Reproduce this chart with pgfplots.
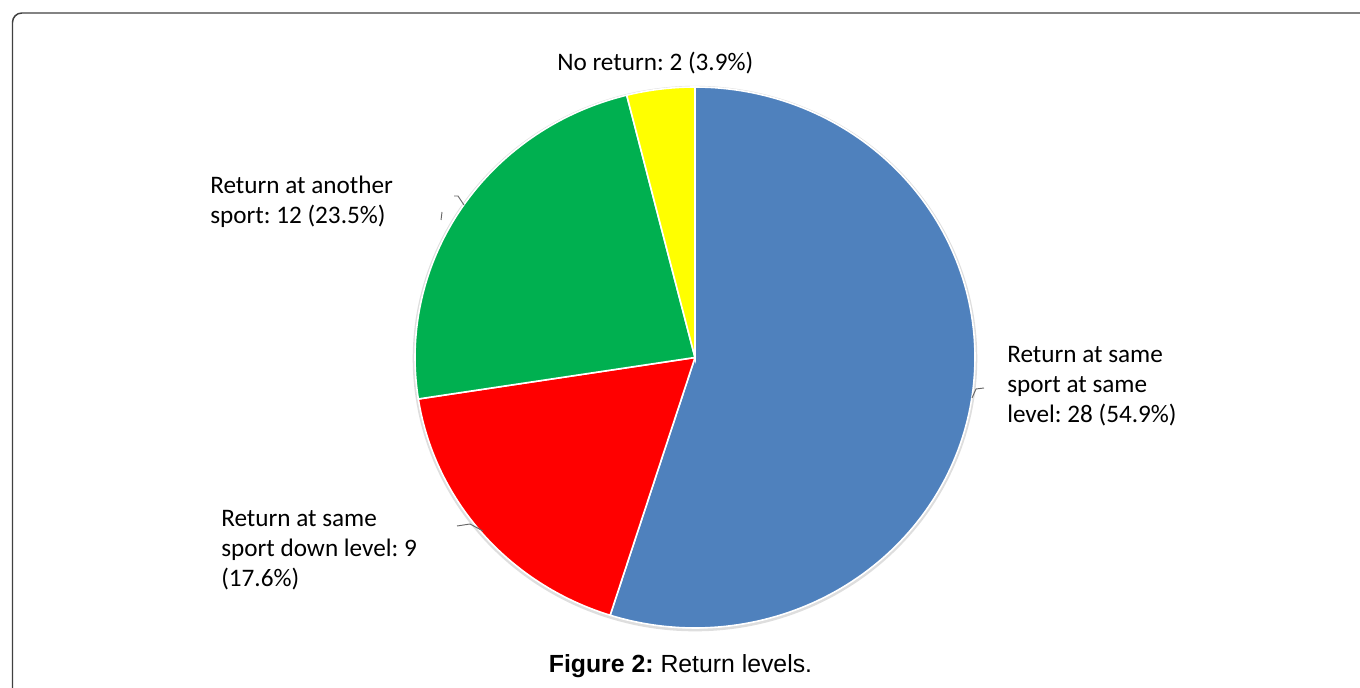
\documentclass[border=0pt]{standalone}
\usepackage{pgfplots}
\pgfplotsset{compat=1.18}
\usepackage{fontspec}
\setmainfont{Carlito}
\newfontfamily\capfont{Liberation Sans}
\definecolor{cblue}{HTML}{4F81BD}
\definecolor{cred}{HTML}{FF0000}
\definecolor{cgreen}{HTML}{00B050}
\definecolor{cyellow}{HTML}{FFFF00}
% data: counts per category (clockwise from 12 o'clock)
\def\vA{28}% Return at same sport at same level
\def\vB{9}% Return at same sport down level
\def\vC{12}% Return at another sport
\def\vD{2}% No return
\pgfmathsetmacro\tot{\vA+\vB+\vC+\vD}
\pgfmathsetmacro\aO{90}
\pgfmathsetmacro\aA{\aO-360*\vA/\tot}
\pgfmathsetmacro\aB{\aA-360*\vB/\tot}
\pgfmathsetmacro\aC{\aB-360*\vC/\tot}
\pgfmathsetmacro\aD{\aC-360*\vD/\tot}
% pixel coordinates (origin top left, y downward) -> pt
\def\px(#1,#2){({(#1)*0.75pt},{(688-(#2))*0.75pt})}
\begin{document}
\frenchspacing
\begin{tikzpicture}
\useasboundingbox \px(0,0) rectangle \px(1360,688);
\begin{scope}
\clip \px(0,0) rectangle \px(1360,688);
\draw[line width=1.1pt, color=black!75, rounded corners=7pt] \px(12.5,13) rectangle \px(1380,710);
\end{scope}
\begin{axis}[at={(521.25pt,247.875pt)}, anchor=center, scale only axis,
  width=420pt, height=405.75pt, xmin=-1, xmax=1, ymin=-1, ymax=1,
  hide axis, clip=false]
\addplot[draw=black!13, line width=2.2pt, domain=0:360, samples=240] ({1.003*cos(x)},{1.003*sin(x)-0.004});
\addplot[fill=cblue, draw=white, line width=1.2pt, domain=\aA:\aO, samples=150] ({cos(x)},{sin(x)}) -- (0,0) -- cycle;
\addplot[fill=cred, draw=white, line width=1.2pt, domain=\aB:\aA, samples=60] ({cos(x)},{sin(x)}) -- (0,0) -- cycle;
\addplot[fill=cgreen, draw=white, line width=1.2pt, domain=\aC:\aB, samples=80] ({cos(x)},{sin(x)}) -- (0,0) -- cycle;
\addplot[fill=cyellow, draw=white, line width=1.2pt, domain=\aD:\aC, samples=20] ({cos(x)},{sin(x)}) -- (0,0) -- cycle;
\end{axis}
% leader lines
\draw[black!60, line width=0.7pt] \px(454,196) -- \px(458,196) -- \px(464,205);
\draw[black!60, line width=0.7pt] \px(442,212) -- \px(441,220);
\draw[black!60, line width=0.7pt] \px(972,398) -- \px(976,389) -- \px(984,388);
\draw[black!60, line width=0.7pt] \px(457,526) -- \px(470,524) -- \px(483,531);
% labels
\tikzset{lab/.style={anchor=base west, inner sep=0pt, font=\fontsize{18.9pt}{22pt}\selectfont}}
\node[lab] at \px(557,71) {No return: 2 (3.9\%)};
\node[lab] at \px(210,194) {Return at another};
\node[lab] at \px(210,224) {sport: 12 (23.5\%)};
\node[lab] at \px(1007,363) {Return at same};
\node[lab] at \px(1007,393) {sport at same};
\node[lab] at \px(1007,423) {level: 28 (54.9\%)};
\node[lab] at \px(221,527) {Return at same};
\node[lab] at \px(221,557) {sport down level: 9};
\node[lab] at \px(221,587) {(17.6\%)};
\node[anchor=base, inner sep=0pt, font=\capfont\fontsize{18.6pt}{22pt}\selectfont] at \px(680.5,673) {\textbf{Figure 2:} Return levels.};
\end{tikzpicture}
\end{document}
